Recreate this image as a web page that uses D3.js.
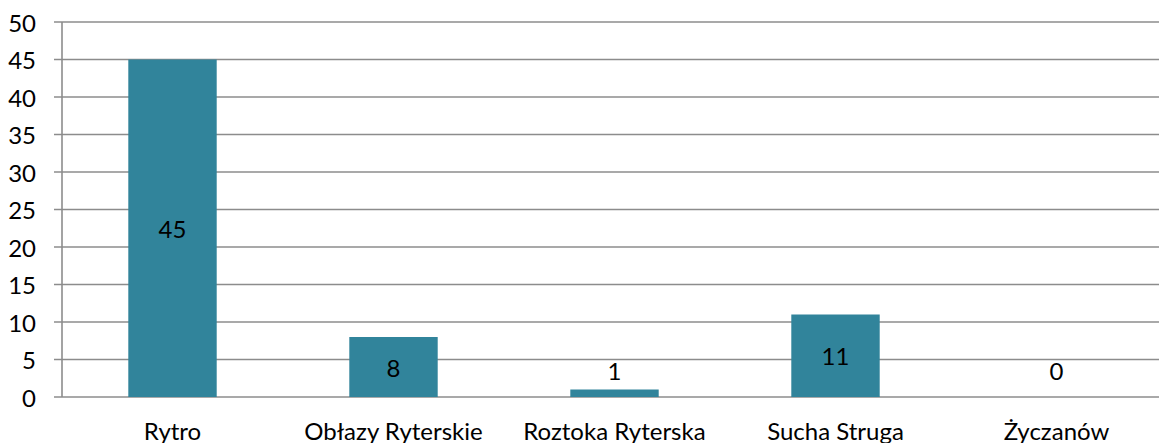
<!DOCTYPE html>
<html>
<head>
<meta charset="utf-8">
<script src="https://cdn.jsdelivr.net/npm/d3@7"></script>
<style>
html,body{margin:0;padding:0;background:#fff;overflow:hidden;}
svg{display:block;}
text{font-family:Lato,"Open Sans",sans-serif;fill:#000;}
</style>
</head>
<body>
<svg id="chart" width="1159" height="443"></svg>
<script>
const categories = ["Rytro", "Obłazy Ryterskie", "Roztoka Ryterska", "Sucha Struga", "Życzanów"];
const values = [45, 8, 1, 11, 0];
const yTicks = [0, 5, 10, 15, 20, 25, 30, 35, 40, 45, 50];

(function () {
const W = 1159, H = 443;
const svg = d3.select("#chart");
const mLeft = 62, mRight = 1167, mTop = 22, mBottom = 397;
const fs = 24;

const x = d3.scaleBand().domain(categories).range([mLeft, mRight]).paddingInner(0.6).paddingOuter(0.3);
const y = d3.scaleLinear().domain([0, 50]).range([mBottom, mTop]);

// gridlines
svg.append("g").selectAll("line").data(yTicks).join("line")
  .attr("x1", mLeft - 8).attr("x2", W)
  .attr("y1", d => y(d)).attr("y2", d => y(d))
  .attr("stroke", "#8c8c8c").attr("stroke-width", 1.6);

// y axis line
svg.append("line").attr("x1", mLeft).attr("x2", mLeft).attr("y1", y(50)).attr("y2", y(0))
  .attr("stroke", "#8c8c8c").attr("stroke-width", 1.6);

// y tick labels
svg.append("g").selectAll("text").data(yTicks).join("text")
  .attr("x", 36).attr("y", d => y(d))
  .attr("text-anchor", "end").attr("dominant-baseline", "central")
  .style("font-size", fs + "px")
  .text(d => d);

// bars
svg.append("g").selectAll("rect").data(values).join("rect")
  .attr("x", (d, i) => x(categories[i]))
  .attr("width", x.bandwidth())
  .attr("y", d => y(d))
  .attr("height", d => y(0) - y(d))
  .attr("fill", "#31849b");

// value labels
svg.append("g").selectAll("text").data(values).join("text")
  .attr("x", (d, i) => x(categories[i]) + x.bandwidth() / 2)
  .attr("y", d => Math.min((y(d) + y(0)) / 2, y(0) - 27))
  .attr("text-anchor", "middle").attr("dominant-baseline", "central")
  .style("font-size", fs + "px")
  .text(d => d);

// category labels
svg.append("g").selectAll("text").data(categories).join("text")
  .attr("x", d => x(d) + x.bandwidth() / 2)
  .attr("y", 440)
  .attr("text-anchor", "middle")
  .style("font-size", fs + "px")
  .text(d => d);
})();
</script>
</body>
</html>
